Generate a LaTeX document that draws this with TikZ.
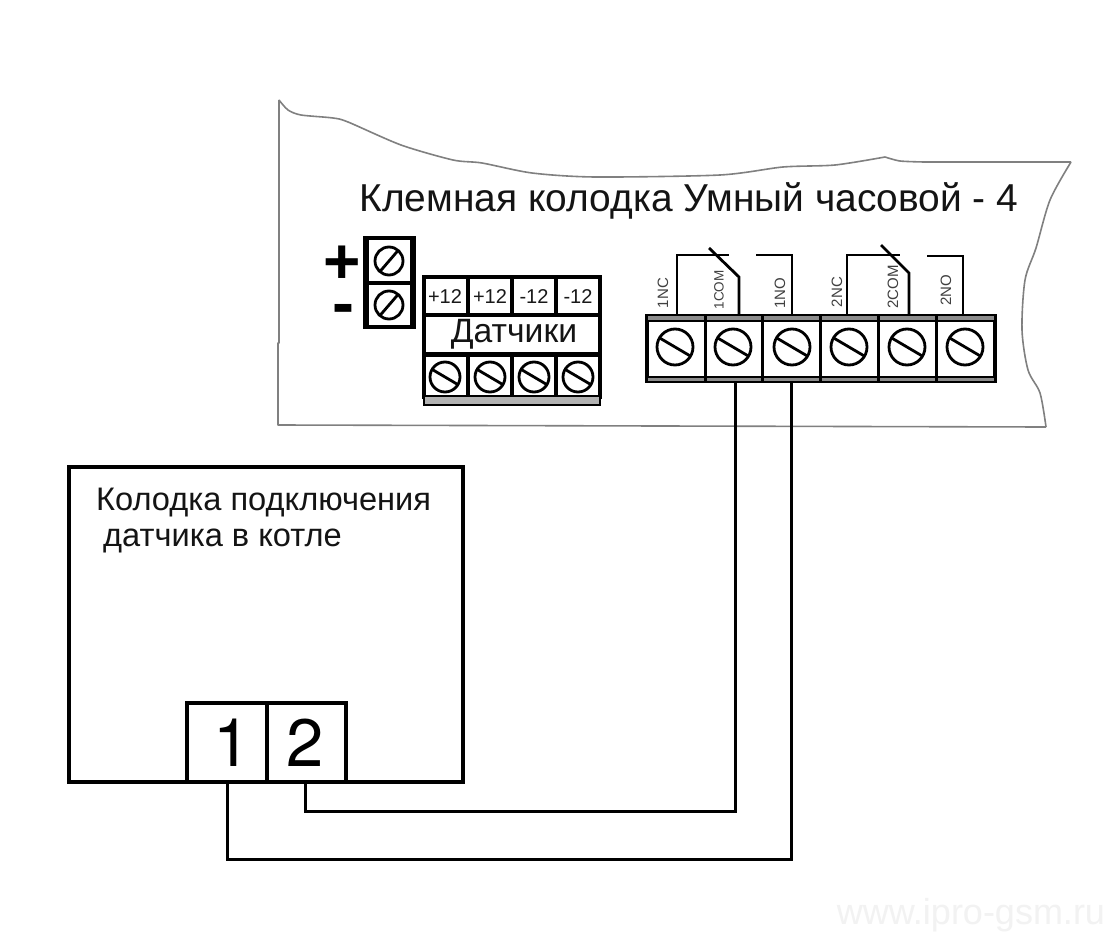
\documentclass[tikz,border=0pt]{standalone}
\usepackage{fontspec}
\setmainfont{Liberation Sans}
\newfontfamily\digitfont{TeX Gyre Heros}
\tikzset{
 x=1pt,y=-1pt,
 sheet/.style={draw=black!50,line width=1.6pt,line join=round},
 wire/.style={draw=black,line width=3pt,line join=miter},
 thin wire/.style={draw=black,line width=2.8pt,line join=miter},
 box/.style={draw=black,line width=3.4pt},
 screwhead/.style={circle,draw=black,line width=2.8pt,fill=white,inner sep=0pt},
 lbl/.style={inner sep=0pt,text=black!92},
 pin/.style={inner sep=0pt,text=black!75,rotate=90},
 cell/.style={inner sep=0pt,text=black!90,font=\fontsize{20}{20}\selectfont},
}
\newcommand{\screwA}[3]{%
 \node[screwhead,minimum size=#3*2pt] (s#1#2) at (#1,#2) {};
 \draw[line width=2.8pt] (#1-#3*0.62,#2+#3*0.72) -- (#1+#3*0.62,#2-#3*0.72);}
\newcommand{\screwB}[3]{%
 \node[screwhead,minimum size=#3*2pt] (s#1#2) at (#1,#2) {};
 \draw[line width=2.8pt] (#1-#3*0.85,#2-#3*0.5) -- (#1+#3*0.85,#2+#3*0.5);}
\begin{document}
\begin{tikzpicture}
\useasboundingbox (0,0) rectangle (1107,936);
\fill[white] (0,0) rectangle (1107,936);
% sheet
\draw[sheet] (279,100) -- (279,343) -- (278,343) -- (278,425) -- (1046,427);
\draw[sheet] plot[smooth,tension=0.45] coordinates {(279,100) (288,110) (301,115) (333,118) (348,122) (401,145) (453,160) (482,163) (532,173) (595,177) (720,175) (783,167) (835,165) (885,157)};
\draw[sheet] plot[smooth,tension=0.45] coordinates {(885,157) (900,161) (924,162)} -- (1071,162);
\draw[sheet] plot[smooth,tension=0.5] coordinates {(1071,162) (1050,200) (1036,248) (1025,280) (1022,330) (1028,370) (1040,393) (1046,427)};
\node[lbl,anchor=center,font=\fontsize{38.9}{39}\selectfont] (title) at (689,201) {Клемная колодка Умный часовой - 4};
% power block
\node[inner sep=0pt,font=\fontsize{64}{64}\selectfont\bfseries] (plus) at (342,265) {+};
\node[inner sep=0pt,font=\fontsize{66}{66}\selectfont\bfseries] (minus) at (343,315) {-};
\draw[box] (365,238) rectangle (414,327);
\fill (363,237) rectangle (369,329);
\fill (410,237) rectangle (416,329);
\draw[box] (365,283) -- (414,283);
\screwA{389}{261}{14}
\screwA{389}{305}{14}
% sensor block
\draw[box] (424,277) rectangle (600,397);
\draw[box] (424,315) -- (600,315);
\fill (423,352) rectangle (600,357);
\foreach \x in {468,512,556}{
 \draw[box] (\x,277) -- (\x,315);
 \draw[box] (\x,354) -- (\x,397);
}
\fill[black!30] (424,397) rectangle (600,404);
\draw[line width=2.8pt] (423,405) -- (601,405);
\draw[line width=2.8pt] (424,397) -- (424,405) (600,397) -- (600,405);
\node[cell] (p1) at (445,297) {+12};
\node[cell] (p2) at (490,297) {+12};
\node[cell] (m1) at (534,297) {-12};
\node[cell] (m2) at (578,297) {-12};
\node[lbl,font=\fontsize{33.7}{34}\selectfont] (dat) at (514,334) {Датчики};
\screwB{445}{377}{15}
\screwB{490}{377}{15}
\screwB{534}{377}{15}
\screwB{578}{377}{15}
% relay block
\draw[box] (647,316) rectangle (995,381);
\fill[black!45] (648,316) rectangle (994,320);
\fill[black!45] (648,377) rectangle (994,381);
\draw[line width=2pt] (647,321) -- (995,321);
\draw[line width=2pt] (647,377) -- (995,377);
\foreach \x in {705,762,820,878,936}{
 \draw[line width=3pt] (\x,316) -- (\x,381);
}
\screwB{675}{347}{18}
\screwB{733}{347}{18}
\screwB{792}{347}{18}
\screwB{849}{347}{18}
\screwB{907}{347}{18}
\screwB{965}{347}{18}
\coordinate (nc1) at (677,315);
\coordinate (com1) at (739,315);
\coordinate (no1) at (792,315);
\coordinate (nc2) at (847,315);
\coordinate (com2) at (909,315);
\coordinate (no2) at (963,315);
\draw[thin wire] (nc1) |- (729,255);
\draw[thin wire] (709,248) -- (739,277) -- (com1);
\draw[thin wire] (756,255) -| (no1);
\draw[thin wire] (nc2) |- (900,255);
\draw[thin wire] (881,245) -- (909,273) -- (com2);
\draw[thin wire] (927,256) -| (no2);
\node[pin,font=\fontsize{15}{15}\selectfont] (l1nc) at (663,293) {1NC};
\node[pin,font=\fontsize{13.5}{14}\selectfont] (l1com) at (719,290) {1COM};
\node[pin,font=\fontsize{15}{15}\selectfont] (l1no) at (780,293) {1NO};
\node[pin,font=\fontsize{15}{15}\selectfont] (l2nc) at (837,292) {2NC};
\node[pin,font=\fontsize{15}{15}\selectfont] (l2com) at (893,287) {2COM};
\node[pin,font=\fontsize{15}{15}\selectfont] (l2no) at (946,290) {2NO};
% boiler box
\draw[box] (69,467) rectangle (463,782);
\node[lbl,anchor=base west,font=\fontsize{32.6}{33}\selectfont] (t1) at (96,510) {Колодка подключения};
\node[lbl,anchor=base west,font=\fontsize{32.6}{33}\selectfont] (t2) at (103,546) {датчика в котле};
\node[draw=black,line width=3.4pt,fill=white,inner sep=0pt,minimum width=80pt,minimum height=79pt] (c1) at (227,742.5) {};
\node[draw=black,line width=3.4pt,fill=white,inner sep=0pt,minimum width=79pt,minimum height=79pt] (c2) at (306.5,742.5) {};
\node[inner sep=0pt,font=\digitfont\fontsize{67}{67}\selectfont] (n1) at (232,743) {1};
\node[inner sep=0pt,font=\digitfont\fontsize{67}{67}\selectfont] (n2) at (305,743) {2};
% wires
\coordinate (a) at (735,382);
\coordinate (b) at (791,382);
\coordinate (d1) at (227,783);
\coordinate (d2) at (305,783);
\draw[wire] (a) -- (735,811) -- (305,811) -- (d2);
\draw[wire] (b) -- (791,859) -- (227,859) -- (d1);
% watermark
\node[inner sep=0pt,text=black!5,font=\fontsize{36}{36}\selectfont] (wm) at (971,915) {www.ipro-gsm.ru};
\end{tikzpicture}
\end{document}
